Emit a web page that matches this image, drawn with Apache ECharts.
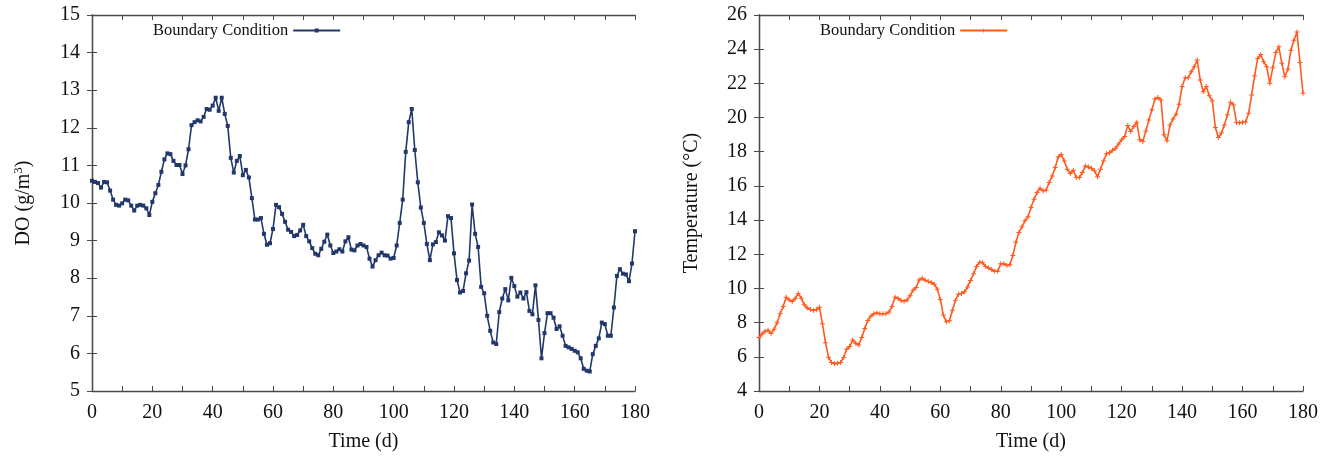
<!DOCTYPE html>
<html>
<head>
<meta charset="utf-8">
<script src="https://cdn.jsdelivr.net/npm/echarts@6/dist/echarts.min.js"></script>
<style>
  html, body { margin: 0; padding: 0; background: #ffffff; }
  #chart { width: 1330px; height: 457px; }
</style>
</head>
<body>
<div id="chart"></div>
<script>
// Daily boundary-condition series, day 0 .. day 180
const doValues = [
  10.59, 10.56, 10.53, 10.41, 10.56, 10.55, 10.33, 10.09, 9.95, 9.93,
  9.99, 10.09, 10.07, 9.93, 9.80, 9.93, 9.95, 9.93, 9.86, 9.68,
  10.03, 10.26, 10.48, 10.83, 11.16, 11.32, 11.30, 11.12, 11.01, 11.01,
  10.77, 11.00, 11.43, 12.07, 12.15, 12.20, 12.17, 12.29, 12.50, 12.48,
  12.59, 12.80, 12.45, 12.80, 12.37, 12.05, 11.20, 10.81, 11.12, 11.25,
  10.74, 10.88, 10.68, 10.13, 9.56, 9.56, 9.60, 9.18, 8.89, 8.93,
  9.31, 9.95, 9.89, 9.71, 9.50, 9.29, 9.23, 9.12, 9.15, 9.27,
  9.42, 9.12, 8.98, 8.80, 8.65, 8.61, 8.78, 8.97, 9.16, 8.87,
  8.67, 8.71, 8.77, 8.71, 8.98, 9.09, 8.76, 8.74, 8.87, 8.91,
  8.87, 8.83, 8.52, 8.31, 8.48, 8.61, 8.68, 8.61, 8.60, 8.52,
  8.54, 8.87, 9.47, 10.09, 11.36, 12.15, 12.50, 11.41, 10.55, 9.88,
  9.47, 8.91, 8.48, 8.90, 8.96, 9.22, 9.14, 9.00, 9.65, 9.60,
  8.66, 7.95, 7.62, 7.66, 8.13, 8.47, 9.96, 9.18, 8.83, 7.77,
  7.60, 7.00, 6.60, 6.29, 6.25, 7.10, 7.46, 7.71, 7.41, 8.01,
  7.79, 7.51, 7.62, 7.46, 7.63, 7.13, 7.04, 7.81, 6.89, 5.87,
  6.54, 7.07, 7.07, 6.95, 6.65, 6.72, 6.47, 6.20, 6.16, 6.12,
  6.07, 6.03, 5.87, 5.59, 5.54, 5.52, 5.98, 6.20, 6.40, 6.82,
  6.78, 6.47, 6.47, 7.22, 8.06, 8.24, 8.12, 8.10, 7.92, 8.39,
  9.25
];

const tempValues = [
  7.13, 7.33, 7.50, 7.56, 7.37, 7.62, 8.00, 8.52, 8.94, 9.48,
  9.33, 9.23, 9.42, 9.71, 9.42, 9.04, 8.85, 8.77, 8.71, 8.75,
  8.90, 7.94, 6.83, 5.98, 5.67, 5.60, 5.63, 5.67, 5.96, 6.44,
  6.60, 6.98, 6.79, 6.69, 7.13, 7.65, 8.13, 8.38, 8.52, 8.56,
  8.52, 8.52, 8.52, 8.62, 8.94, 9.48, 9.42, 9.29, 9.25, 9.33,
  9.58, 9.90, 10.06, 10.50, 10.60, 10.48, 10.40, 10.35, 10.25, 9.96,
  9.35, 8.44, 8.05, 8.11, 8.73, 9.31, 9.66, 9.70, 9.80, 10.09,
  10.47, 10.86, 11.29, 11.54, 11.50, 11.29, 11.19, 11.09, 11.01, 11.01,
  11.44, 11.44, 11.35, 11.38, 11.93, 12.70, 13.28, 13.61, 13.96, 14.19,
  14.74, 15.22, 15.61, 15.86, 15.71, 15.75, 16.20, 16.58, 17.07, 17.69,
  17.84, 17.46, 16.97, 16.72, 16.91, 16.49, 16.49, 16.78, 17.17, 17.11,
  17.03, 16.88, 16.53, 16.97, 17.46, 17.88, 17.94, 18.08, 18.20, 18.45,
  18.70, 18.89, 19.53, 19.18, 19.48, 19.73, 18.70, 18.60, 19.22, 19.86,
  20.45, 21.09, 21.17, 21.03, 19.00, 18.64, 19.57, 19.92, 20.19, 20.78,
  21.81, 22.33, 22.33, 22.68, 22.97, 23.36, 22.19, 21.51, 21.81, 21.28,
  20.97, 19.42, 18.83, 19.09, 19.57, 20.16, 20.89, 20.74, 19.71, 19.70,
  19.72, 19.74, 20.25, 21.32, 22.45, 23.46, 23.69, 23.26, 22.97, 22.00,
  22.91, 23.81, 24.14, 23.17, 22.39, 22.83, 23.94, 24.52, 25.00, 23.22,
  21.42
];

// Axis settings and labels
const timeRange = [0, 180];
const doRange = [5, 15];
const tempRange = [4, 26];
const legendLabel = 'Boundary Condition';
const timeTitle = 'Time (d)';
const doTitle = 'DO (g/m{sup|3})';
const tempTitle = 'Temperature (°C)';

const FONT = "'Liberation Serif', 'DejaVu Serif', serif";
const FRAME = '#4a4a4a';
const DO_COLOR = '#22386b';
const T_COLOR = '#ff5a1f';

const toPairs = arr => arr.map((v, i) => [i, v]);

function xAxisPair(gridIndex) {
  const common = {
    gridIndex, type: 'value', min: timeRange[0], max: timeRange[1], interval: 10,
    splitLine: { show: false },
    axisLine: { show: true, lineStyle: { color: FRAME, width: 1.3 } },
    axisTick: { show: true, inside: true, length: 5, lineStyle: { color: FRAME, width: 1 } }
  };
  return [
    Object.assign({}, common, {
      position: 'bottom',
      name: timeTitle, nameLocation: 'middle', nameGap: 41,
      nameTextStyle: { fontFamily: FONT, fontSize: 20, color: '#111' },
      axisLabel: {
        show: true, margin: 12, fontFamily: FONT, fontSize: 20, color: '#111',
        formatter: v => (v % 20 === 0 ? String(v) : '')
      }
    }),
    Object.assign({}, common, { position: 'top', axisLabel: { show: false } })
  ];
}

function yAxisPair(gridIndex, range, step, title, gap) {
  const common = {
    gridIndex, type: 'value', min: range[0], max: range[1], interval: step,
    splitLine: { show: false },
    axisLine: { show: true, lineStyle: { color: FRAME, width: 1.3 } },
    axisTick: { show: true, inside: true, length: 5, lineStyle: { color: FRAME, width: 1 } }
  };
  return [
    Object.assign({}, common, {
      position: 'left',
      name: title, nameLocation: 'middle', nameGap: gap, nameRotate: 90,
      nameTextStyle: {
        fontFamily: FONT, fontSize: 20, color: '#111',
        rich: { sup: { fontFamily: FONT, fontSize: 13, color: '#111', verticalAlign: 'top', padding: [0, 0, 10, 0] } }
      },
      axisLabel: { show: true, margin: 12, fontFamily: FONT, fontSize: 20, color: '#111' }
    }),
    Object.assign({}, common, { position: 'right', axisLabel: { show: false } })
  ];
}

const plusSymbol = 'path://M2,0H3V2H5V3H3V5H2V3H0V2H2Z';

const legendCommon = {
  top: 17, align: 'right', itemWidth: 47, itemHeight: 5,
  formatter: () => legendLabel,
  textStyle: { fontFamily: FONT, fontSize: 16.5, color: '#111' }
};

const chart = echarts.init(document.getElementById('chart'), null, { renderer: 'canvas' });
chart.setOption({
  animation: false,
  backgroundColor: '#ffffff',
  grid: [
    { left: 92, top: 15, width: 543, height: 378 },
    { left: 759, top: 15, width: 544, height: 378 }
  ],
  legend: [
    Object.assign({ data: ['DO'], left: 148 }, legendCommon),
    Object.assign({ data: ['Temperature'], left: 815 }, legendCommon)
  ],
  xAxis: [].concat(xAxisPair(0), xAxisPair(1)),
  yAxis: [].concat(
    yAxisPair(0, doRange, 1, doTitle, 57),
    yAxisPair(1, tempRange, 2, tempTitle, 57)
  ),
  series: [
    {
      name: 'DO', type: 'line', xAxisIndex: 0, yAxisIndex: 0,
      data: toPairs(doValues),
      showSymbol: true, showAllSymbol: true,
      symbol: 'rect', symbolSize: 4,
      lineStyle: { color: DO_COLOR, width: 1.6 },
      itemStyle: { color: DO_COLOR }
    },
    {
      name: 'Temperature', type: 'line', xAxisIndex: 2, yAxisIndex: 2,
      data: toPairs(tempValues),
      showSymbol: true, showAllSymbol: true,
      symbol: plusSymbol, symbolSize: 5,
      lineStyle: { color: T_COLOR, width: 1.6 },
      itemStyle: { color: T_COLOR }
    }
  ]
});
</script>
</body>
</html>
